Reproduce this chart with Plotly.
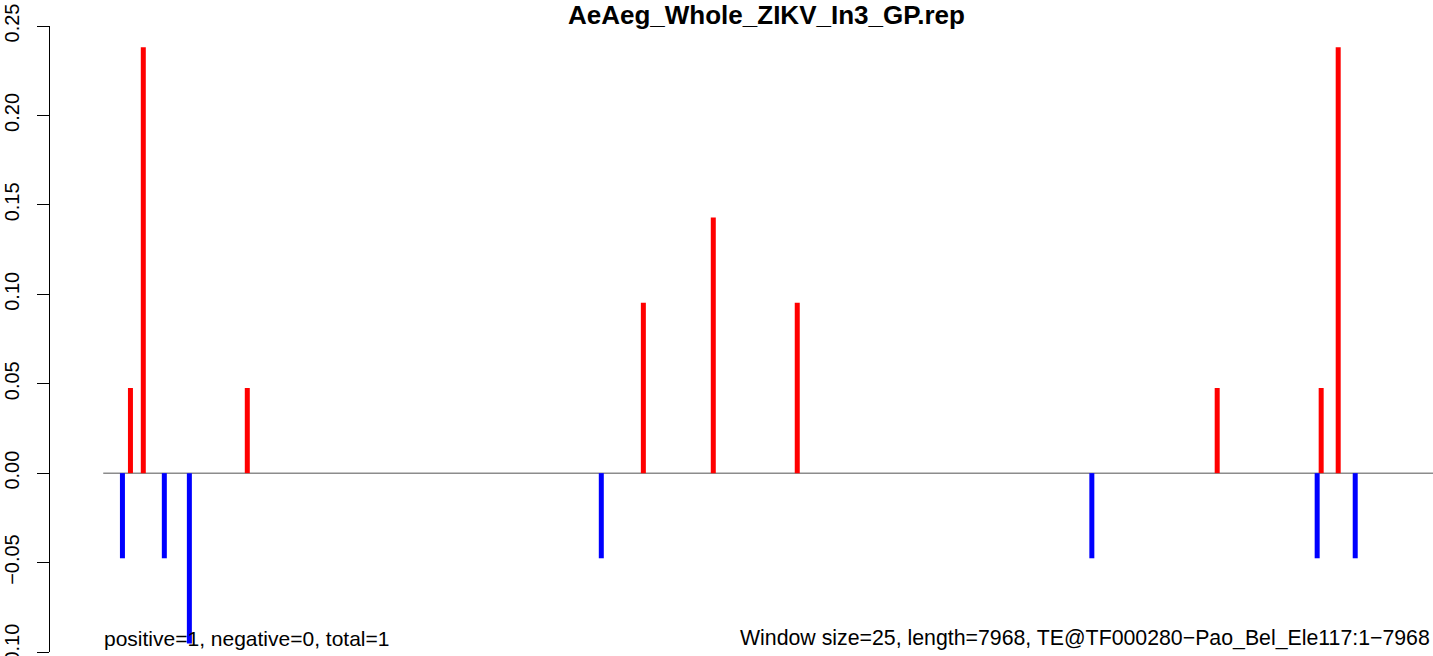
import plotly.graph_objects as go

# ---- data ----
title_text = "AeAeg_Whole_ZIKV_In3_GP.rep"
seq_length = 7968
pos_positions = [164, 241, 864, 3237, 3656, 4159, 6675, 7298, 7400]
pos_values = [0.0476, 0.2381, 0.0476, 0.0952, 0.1429, 0.0952, 0.0476, 0.0476, 0.2381]
neg_positions = [116, 367, 517, 2985, 5924, 7274, 7502]
neg_values = [-0.0476, -0.0476, -0.0952, -0.0476, -0.0476, -0.0476, -0.0476]
y_ticks = [-0.10, -0.05, 0.00, 0.05, 0.10, 0.15, 0.20, 0.25]
left_note = "positive=1, negative=0, total=1"
right_note = "Window size=25, length=7968, TE@TF000280\u2212Pao_Bel_Ele117:1\u22127968"


def stems(xs, ys):
    sx, sy = [], []
    for x, y in zip(xs, ys):
        sx += [x, x, None]
        sy += [0, y, None]
    return sx, sy


FONT = "Liberation Sans, Arial, Helvetica, sans-serif"

fig = go.Figure()
fig.add_trace(go.Scatter(x=[1, seq_length + 400], y=[0, 0], mode="lines",
                         line=dict(color="#8c8c8c", width=1.5),
                         hoverinfo="skip", showlegend=False))
px_, py_ = stems(pos_positions, pos_values)
fig.add_trace(go.Scatter(x=px_, y=py_, mode="lines",
                         line=dict(color="#ff0000", width=5), showlegend=False))
nx_, ny_ = stems(neg_positions, neg_values)
fig.add_trace(go.Scatter(x=nx_, y=ny_, mode="lines",
                         line=dict(color="#0000ff", width=5), showlegend=False))


def fmt(v):
    s = f"{abs(v):.2f}"
    return ("\u2212" + s) if v < 0 else s


fig.update_layout(
    width=1433, height=656,
    margin=dict(l=50, r=0, t=26, b=4, autoexpand=False),
    paper_bgcolor="white", plot_bgcolor="white",
    font=dict(family=FONT, color="black", size=20),
    xaxis=dict(range=[-318, seq_length], visible=False, showgrid=False, zeroline=False,
               automargin=False),
    yaxis=dict(range=[-0.10, 0.25], tickvals=y_ticks, ticktext=[fmt(v) for v in y_ticks],
               showline=True, linecolor="black", linewidth=1,
               ticks="outside", ticklen=12, tickwidth=1, tickcolor="black",
               tickangle=-90, ticklabelstandoff=10, automargin=False,
               ticklabeloverflow="allow",
               showgrid=False, zeroline=False,
               tickfont=dict(family=FONT, size=20, color="black")),
    annotations=[
        dict(text="<b>" + title_text + "</b>", xref="paper", yref="paper",
             x=(766.5 - 50) / 1383, y=(652 - 14.5) / 626, xanchor="center", yanchor="middle",
             showarrow=False, borderpad=0,
             font=dict(family=FONT, size=26, color="black")),
        dict(text=left_note, xref="paper", yref="paper",
             x=(102 - 50) / 1383, y=(652 - 638) / 626, xanchor="left", yanchor="middle",
             showarrow=False, font=dict(family=FONT, size=21, color="black")),
        dict(text=right_note, xref="paper", yref="paper",
             x=(1432 - 50) / 1383, y=(652 - 638) / 626, xanchor="right", yanchor="middle",
             showarrow=False, font=dict(family=FONT, size=21.3, color="black")),
    ],
)

fig.write_html("out.html",
               config={"displayModeBar": False},
               post_script="document.body.style.margin='0';document.body.style.overflow='hidden';")
